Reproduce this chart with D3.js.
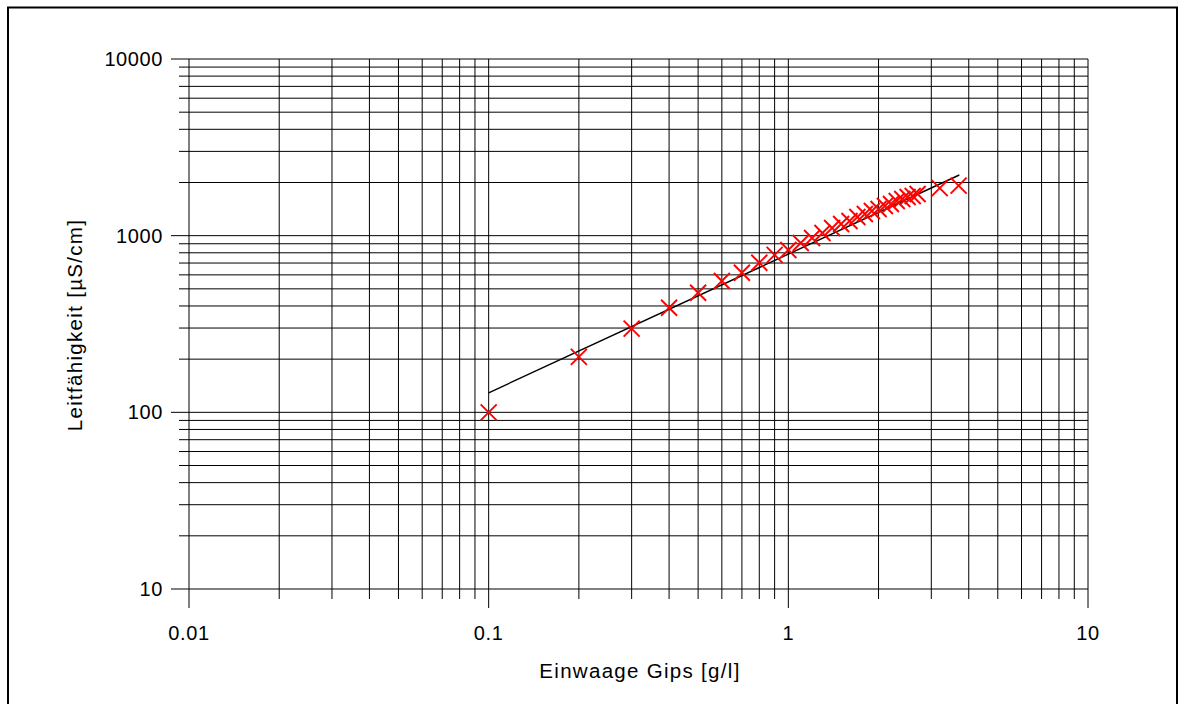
<!DOCTYPE html>
<html>
<head>
<meta charset="utf-8">
<script src="https://cdn.jsdelivr.net/npm/d3@7/dist/d3.min.js"></script>
<style>
  html, body { margin: 0; padding: 0; background: #fff; }
  svg { display: block; font-family: "Liberation Sans", Arial, sans-serif; }
</style>
</head>
<body>
<svg id="chart" width="1181" height="704"></svg>
<script>
// Einwaage Gips [g/l] vs. Leitfähigkeit [µS/cm]
const einwaage = [0.1, 0.2, 0.3, 0.4, 0.5, 0.6, 0.7, 0.8, 0.9, 1.0,
                  1.1, 1.2, 1.3, 1.4, 1.5, 1.6, 1.7, 1.8, 1.9, 2.0,
                  2.1, 2.2, 2.3, 2.4, 2.5, 2.6, 2.7, 3.2, 3.7];
const leitfaehigkeit = [100, 206, 298, 391, 475, 554, 617, 703, 778, 830,
                        909, 970, 1035, 1105, 1164, 1211, 1276, 1327, 1379, 1416,
                        1472, 1511, 1572, 1613, 1655, 1677, 1721, 1860, 1920];
// Regression line (straight in log-log), given by its two end points
const trendX = [0.1, 3.72];
const trendY = [129, 2205];

const xTickLabels = ["0.01", "0.1", "1", "10"];
const yTickLabels = ["10", "100", "1000", "10000"];

const svg = d3.select("#chart");

// outer frame
svg.append("rect")
  .attr("x", 8).attr("y", 7.5).attr("width", 1169).attr("height", 720)
  .attr("fill", "none").attr("stroke", "#000").attr("stroke-width", 2);

const x = d3.scaleLog().domain([0.01, 10]).range([189, 1088]);
const y = d3.scaleLog().domain([10, 10000]).range([589, 59]);

// all decade and intermediate values for the grid
function logTicks(lo, hi) {
  const out = [];
  for (let e = Math.round(Math.log10(lo)); e < Math.round(Math.log10(hi)); e++) {
    for (let m = 1; m < 10; m++) out.push(m * Math.pow(10, e));
  }
  out.push(hi);
  return out;
}
const isMajor = v => Math.abs(Math.log10(v) - Math.round(Math.log10(v))) < 1e-9;

const grid = svg.append("g").attr("stroke", "#000").attr("stroke-width", 1);

// vertical grid lines with ticks below the plot
grid.selectAll("line.v").data(logTicks(0.01, 10)).join("line")
  .attr("class", "v")
  .attr("x1", d => x(d)).attr("x2", d => x(d))
  .attr("y1", y(10000)).attr("y2", d => y(10) + (isMajor(d) ? 19 : 10));

// horizontal grid lines with ticks left of the plot
grid.selectAll("line.h").data(logTicks(10, 10000)).join("line")
  .attr("class", "h")
  .attr("y1", d => y(d)).attr("y2", d => y(d))
  .attr("x1", d => x(0.01) - (isMajor(d) ? 18 : 10)).attr("x2", x(10));

// tick labels
const xVals = xTickLabels.map(Number);
svg.append("g").selectAll("text").data(xVals).join("text")
  .attr("x", d => x(d)).attr("y", 640)
  .attr("text-anchor", "middle").attr("font-size", 20)
  .attr("letter-spacing", 0.6)
  .text((d, i) => xTickLabels[i]);

const yVals = yTickLabels.map(Number);
svg.append("g").selectAll("text").data(yVals).join("text")
  .attr("x", 163).attr("y", d => y(d) + 7)
  .attr("text-anchor", "end").attr("font-size", 20)
  .attr("letter-spacing", 0.6)
  .text((d, i) => yTickLabels[i]);

// axis titles
svg.append("text")
  .attr("x", 640).attr("y", 678)
  .attr("text-anchor", "middle").attr("font-size", 20.5)
  .attr("letter-spacing", 1.3)
  .text("Einwaage Gips [g/l]");
svg.append("text")
  .attr("transform", "translate(82,325) rotate(-90)")
  .attr("text-anchor", "middle").attr("font-size", 20.5)
  .attr("letter-spacing", 1.3)
  .text("Leitfähigkeit [µS/cm]");

// regression line
svg.append("line")
  .attr("x1", x(trendX[0])).attr("y1", y(trendY[0]))
  .attr("x2", x(trendX[1])).attr("y2", y(trendY[1]))
  .attr("stroke", "#000").attr("stroke-width", 1.4);

// measured points as red crosses
const pts = einwaage.map((v, i) => [v, leitfaehigkeit[i]]);
const s = 8;
svg.append("g").selectAll("path").data(pts).join("path")
  .attr("d", d => {
    const cx = x(d[0]), cy = y(d[1]);
    return `M${cx - s},${cy - s}L${cx + s},${cy + s}M${cx - s},${cy + s}L${cx + s},${cy - s}`;
  })
  .attr("stroke", "#ff0000").attr("stroke-width", 1.9).attr("fill", "none");
</script>
</body>
</html>
